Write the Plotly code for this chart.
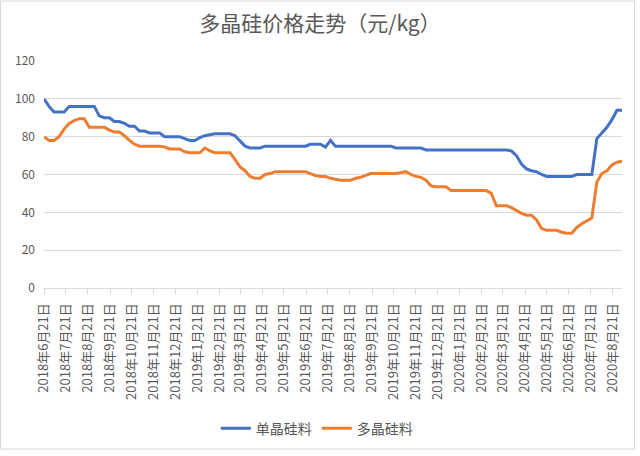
import pandas as pd
import plotly.graph_objects as go

# weekly observation dates (x positions)
dates = pd.date_range("2018-06-21", periods=116, freq="7D")

mono_si = [100, 96, 93, 93, 93, 96, 96, 96, 96, 96,
           96, 91, 90, 90, 88, 88, 87, 85.5, 85.5, 83,
           83, 82, 82, 82, 80, 80, 80, 80, 79, 78,
           78, 79.5, 80.5, 81, 81.5, 81.5, 81.5, 81.5, 80.5, 78,
           75, 74, 74, 74, 75, 75, 75, 75, 75, 75,
           75, 75, 75, 76, 76, 76, 74.5, 78, 75, 75,
           75, 75, 75, 75, 75, 75, 75, 75, 75, 75,
           74, 74, 74, 74, 74, 74, 73, 73, 73, 73,
           73, 73, 73, 73, 73, 73, 73, 73, 73, 73,
           73, 73, 73, 72.5, 70, 65.5, 63, 62, 61.5, 60,
           59, 59, 59, 59, 59, 59, 60, 60, 60, 60,
           79, 82, 85, 89, 94, 94]

poly_si = [80, 78, 78, 80, 84, 87, 88.5, 89.5, 89.5, 85,
           85, 85, 85, 83.5, 82.5, 82.5, 80.5, 78, 76, 75,
           75, 75, 75, 75, 74.5, 73.5, 73.5, 73.5, 72, 71.5,
           71.5, 71.5, 74, 72.5, 71.5, 71.5, 71.5, 71.5, 68, 64,
           62, 59, 58, 58, 60, 60.5, 61.5, 61.5, 61.5, 61.5,
           61.5, 61.5, 61.5, 60.5, 59.5, 59, 59, 58, 57.5, 57,
           57, 57, 58, 58.5, 59.5, 60.5, 60.5, 60.5, 60.5, 60.5,
           60.5, 61, 61.5, 60, 59, 58.5, 57, 54, 53.5, 53.5,
           53.5, 51.5, 51.5, 51.5, 51.5, 51.5, 51.5, 51.5, 51.5, 50,
           43.5, 43.5, 43.5, 42.5, 41, 39.5, 38.5, 38.5, 36, 31.5,
           30.5, 30.5, 30.5, 29.5, 29, 29, 32, 34, 35.5, 37,
           56, 60.5, 62, 65, 66.5, 67]

tick_dates = ["2018-06-21", "2018-07-21", "2018-08-21", "2018-09-21", "2018-10-21",
              "2018-11-21", "2018-12-21", "2019-01-21", "2019-02-21", "2019-03-21",
              "2019-04-21", "2019-05-21", "2019-06-21", "2019-07-21", "2019-08-21",
              "2019-09-21", "2019-10-21", "2019-11-21", "2019-12-21", "2020-01-21",
              "2020-02-21", "2020-03-21", "2020-04-21", "2020-05-21", "2020-06-21",
              "2020-07-21", "2020-08-21"]
tick_labels = ["2018年6月21日", "2018年7月21日", "2018年8月21日", "2018年9月21日", "2018年10月21日",
               "2018年11月21日", "2018年12月21日", "2019年1月21日", "2019年2月21日", "2019年3月21日",
               "2019年4月21日", "2019年5月21日", "2019年6月21日", "2019年7月21日", "2019年8月21日",
               "2019年9月21日", "2019年10月21日", "2019年11月21日", "2019年12月21日", "2020年1月21日",
               "2020年2月21日", "2020年3月21日", "2020年4月21日", "2020年5月21日", "2020年6月21日",
               "2020年7月21日", "2020年8月21日"]

series_names = ["单晶硅料", "多晶硅料"]
title_text = "多晶硅价格走势（元/kg）"

FONT = "Noto Sans CJK SC, Noto Sans, sans-serif"
GRAY = "#595959"
GRID = "#d9d9d9"

fig = go.Figure()
fig.add_trace(go.Scatter(x=dates, y=mono_si, mode="lines", name=series_names[0],
                         line=dict(color="#4472C4", width=3)))
fig.add_trace(go.Scatter(x=dates, y=poly_si, mode="lines", name=series_names[1],
                         line=dict(color="#ED7D31", width=3)))

L, R, T, B = 44, 18, 61, 166
W, H = 640, 456
pw, ph = W - L - R, H - T - B

fig.update_layout(
    width=W, height=H,
    margin=dict(l=L, r=R, t=T, b=B),
    paper_bgcolor="white", plot_bgcolor="white",
    font=dict(family=FONT, color=GRAY, size=12),
    title=dict(text=title_text, x=0.5, xanchor="center", y=1 - 24 / H, yanchor="middle",
               font=dict(size=21, color=GRAY, family=FONT)),
    showlegend=True,
    legend=dict(orientation="h", x=0.472, xanchor="center", y=(T + ph - 432) / ph, yanchor="middle",
                font=dict(size=14, color=GRAY), itemwidth=30, tracegroupgap=0),
    xaxis=dict(
        type="date",
        range=[dates[0], dates[-1]],
        tickmode="array", tickvals=tick_dates, ticktext=tick_labels,
        tickangle=-90, tickfont=dict(size=13, color=GRAY),
        ticks="outside", ticklen=5, tickcolor=GRID, ticklabelstandoff=4,
        showline=True, linecolor=GRID, linewidth=1,
        showgrid=False, zeroline=False,
    ),
    yaxis=dict(
        range=[0, 120], tickmode="array", tickvals=[0, 20, 40, 60, 80, 100, 120],
        tickfont=dict(size=12, color=GRAY),
        showgrid=True, gridcolor=GRID, gridwidth=1,
        zeroline=False, showline=False, ticks="", ticklabelstandoff=8,
    ),
    shapes=[dict(type="rect", xref="paper", yref="paper",
                 x0=(0.5 - L) / pw, x1=(634.5 - L) / pw,
                 y0=(T + ph - 452.5) / ph, y1=(T + ph - 0.5) / ph,
                 line=dict(color=GRID, width=1), fillcolor="rgba(0,0,0,0)", layer="below")],
)

fig.write_html("out.html", config={"displayModeBar": False},
               post_script="document.body.style.margin='0';")
